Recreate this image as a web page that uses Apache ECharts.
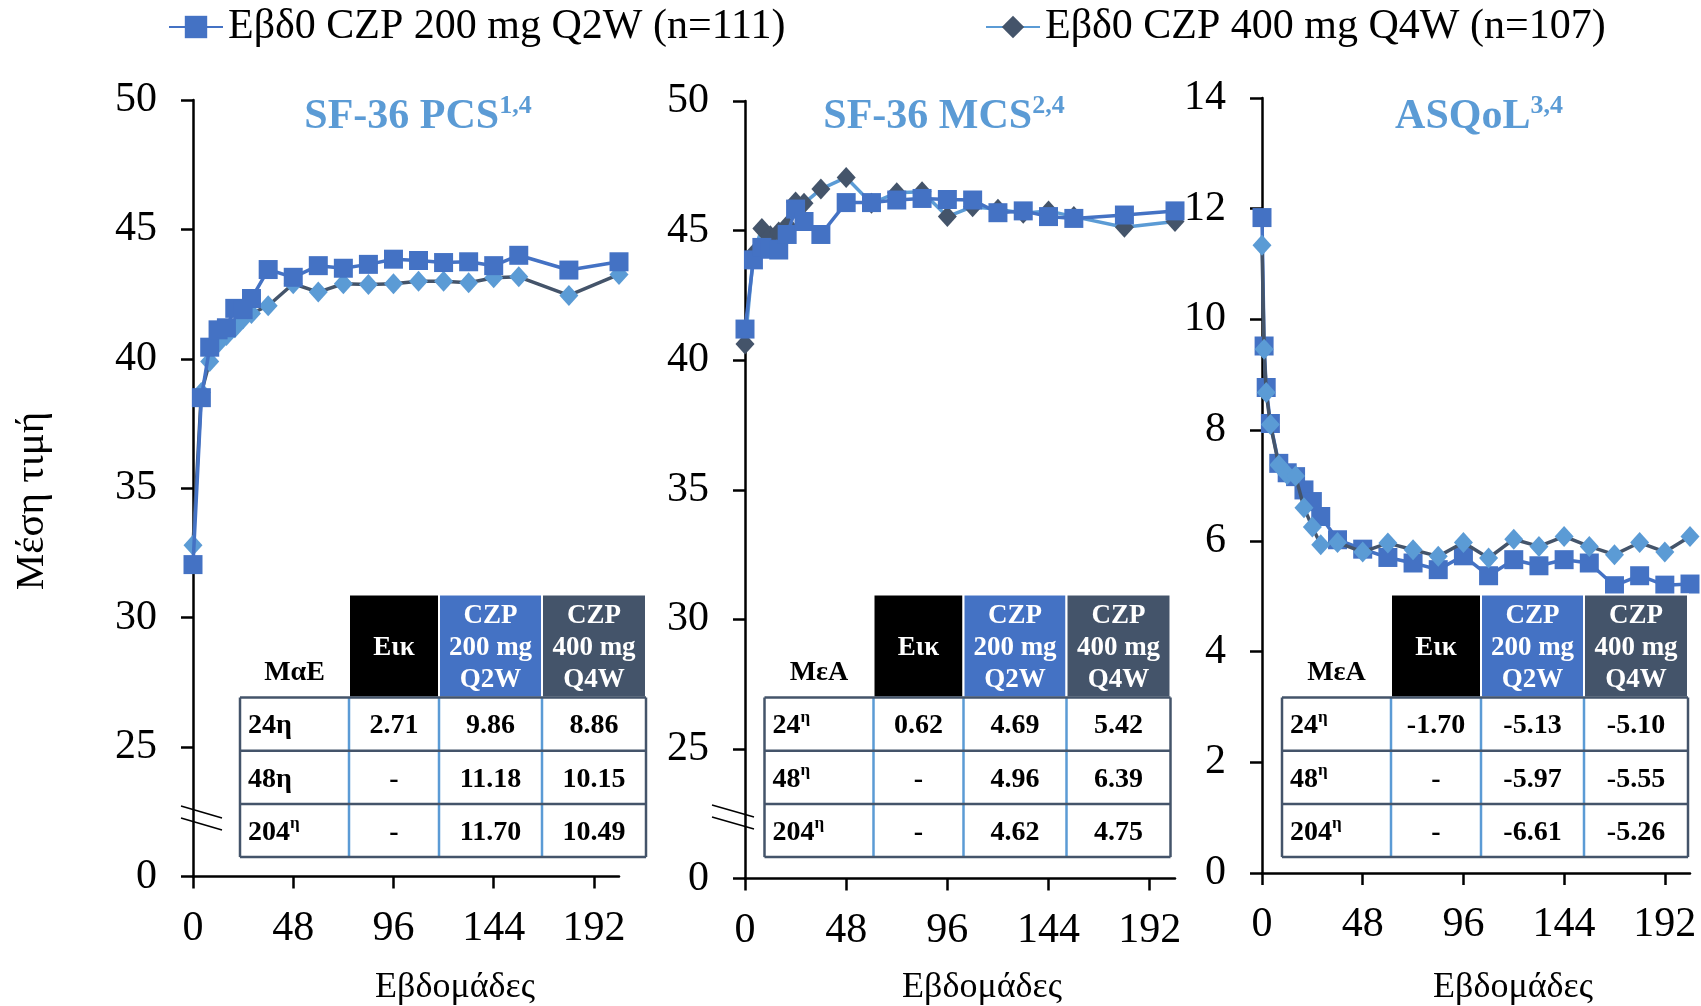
<!DOCTYPE html>
<html>
<head>
<meta charset="utf-8">
<script src="https://cdn.jsdelivr.net/npm/echarts@6/dist/echarts.min.js"></script>
<style>
html, body { margin: 0; padding: 0; background: #fff; }
#main { width: 1701px; height: 1006px; }
</style>
</head>
<body>
<div id="main"></div>
<script>
// visit weeks
var weeksSF = [0, 4, 8, 12, 16, 20, 24, 28, 36, 48, 60, 72, 84, 96, 108, 120, 132, 144, 156, 180, 204];
var weeksAsq = [0, 1, 2, 4, 8, 12, 16, 20, 24, 28, 36, 48, 60, 72, 84, 96, 108, 120, 132, 144, 156, 168, 180, 192, 204];

// SF-36 PCS
var pcs200 = [32.05, 38.5, 40.45, 41.12, 41.2, 41.95, 41.9, 42.33, 43.45, 43.15, 43.6, 43.5, 43.65, 43.85, 43.8, 43.72, 43.75, 43.6, 44.0, 43.43, 43.75];
var pcs400 = [32.8, 38.7, 39.9, 40.6, 40.9, 41.2, 41.55, 41.75, 42.05, 42.9, 42.58, 42.9, 42.87, 42.9, 43.0, 43.0, 42.94, 43.13, 43.17, 42.45, 43.26];
// SF-36 MCS
var mcs200 = [41.2, 43.87, 44.35, 44.28, 44.25, 44.85, 45.83, 45.35, 44.85, 46.08, 46.08, 46.18, 46.24, 46.2, 46.18, 45.69, 45.76, 45.54, 45.47, 45.6, 45.76];
var mcs400 = [40.62, 44.1, 45.08, 44.8, 44.95, 45.2, 46.1, 46.05, 46.6, 47.05, 46.05, 46.46, 46.5, 45.54, 45.92, 45.82, 45.67, 45.76, 45.54, 45.13, 45.35];
// ASQoL
var asq200 = [11.84, 9.52, 8.77, 8.12, 7.40, 7.23, 7.16, 6.92, 6.71, 6.44, 6.02, 5.85, 5.70, 5.60, 5.48, 5.73, 5.37, 5.66, 5.55, 5.66, 5.60, 5.19, 5.37, 5.20, 5.22];
var asq400 = [11.34, 9.46, 8.68, 8.10, 7.37, 7.20, 7.17, 6.60, 6.25, 5.93, 5.97, 5.80, 5.96, 5.84, 5.72, 5.97, 5.69, 6.03, 5.90, 6.08, 5.90, 5.75, 5.97, 5.80, 6.08];

var xTicks = [0, 48, 96, 144, 192];

var name200 = 'Εβδ0 CZP 200 mg Q2W (n=111)';
var name400 = 'Εβδ0 CZP 400 mg Q4W (n=107)';

// tables
var tblHead = ['Εικ', 'CZP\n200 mg\nQ2W', 'CZP\n400 mg\nQ4W'];
var pcsRows = ['{n|24η}', '{n|48η}', '{n|204}{s|η}'];
var supRows = ['{n|24}{s|η}', '{n|48}{s|η}', '{n|204}{s|η}'];
var pcsTable = [['2.71', '9.86', '8.86'], ['-', '11.18', '10.15'], ['-', '11.70', '10.49']];
var mcsTable = [['0.62', '4.69', '5.42'], ['-', '4.96', '6.39'], ['-', '4.62', '4.75']];
var asqTable = [['-1.70', '-5.13', '-5.10'], ['-', '-5.97', '-5.55'], ['-', '-6.61', '-5.26']];

var SERIF = '"Liberation Serif", "Times New Roman", serif';
var BLUE = '#4472C4', LIGHT = '#5B9BD5', SLATE = '#44546A';

var chart = echarts.init(document.getElementById('main'));

function pairs(w, v) {
    return w.map(function (x, i) { return [x, v[i]]; });
}

function lineSeries(name, idx, weeks, vals, symbol, lineColor, markColor, z) {
    return {
        name: name, type: 'line', xAxisIndex: idx, yAxisIndex: idx,
        data: pairs(weeks, vals),
        symbol: symbol,
        symbolSize: symbol === 'rect' ? 19 : [19, 21],
        lineStyle: { color: lineColor, width: 3.5 },
        itemStyle: { color: markColor, borderWidth: 0 },
        emphasis: { disabled: true },
        clip: false,
        z: z
    };
}

function xAx(idx) {
    return {
        type: 'value', gridIndex: idx, min: 0, max: 204, interval: 48,
        axisLine: { onZero: false, lineStyle: { color: '#000', width: 2.5 } },
        axisTick: { show: true, length: 12, customValues: xTicks, lineStyle: { color: '#000', width: 2.5 } },
        axisLabel: { customValues: xTicks, margin: 31, color: '#000', fontSize: 42, fontFamily: SERIF },
        splitLine: { show: false }
    };
}

function yAx(idx, min, max, step, fmt) {
    return {
        type: 'value', gridIndex: idx, min: min, max: max, interval: step,
        axisLine: { show: true, onZero: false, lineStyle: { color: '#000', width: 2.5 } },
        axisTick: { show: true, length: 12, lineStyle: { color: '#000', width: 2.5 } },
        axisLabel: { margin: 36, color: '#000', fontSize: 42, fontFamily: SERIF, formatter: fmt },
        splitLine: { show: false }
    };
}

// broken axis: the bottom tick (20) stands for 0
var brokenFmt = function (v) { return v === 20 ? '0' : String(v); };

// ---- table graphics ----
var colW = [109, 90, 103, 104];
var headTop = 594.5, headH = 103, rowH = 53.2;
var headFill = ['#000000', BLUE, SLATE];

function txt(x, y, text, opt) {
    var st = {
        text: text, fill: opt.fill || '#000',
        fontSize: opt.size, fontWeight: opt.weight || 'normal', fontFamily: SERIF,
        align: opt.align || 'center', textAlign: opt.align || 'center',
        verticalAlign: 'middle', textVerticalAlign: 'middle'
    };
    if (opt.lineHeight) { st.lineHeight = opt.lineHeight; }
    if (opt.rich) { st.rich = opt.rich; }
    return { type: 'text', x: x, y: y, z: 100, style: st };
}

function lineEl(x1, y1, x2, y2, color, w) {
    return { type: 'line', z: 101, shape: { x1: x1, y1: y1, x2: x2, y2: y2 }, style: { stroke: color, lineWidth: w } };
}

var rowRich = {
    n: { fontSize: 28, fontWeight: 'bold', fontFamily: SERIF, lineHeight: 34 },
    s: { fontSize: 17, fontWeight: 'bold', fontFamily: SERIF, lineHeight: 18, verticalAlign: 'top' }
};

function tableGraphics(left, corner, rowLabels, cells) {
    var els = [];
    var xs = [left];
    colW.forEach(function (w) { xs.push(xs[xs.length - 1] + w); });
    var bodyTop = headTop + headH, bottom = bodyTop + 3 * rowH;
    els.push({ type: 'rect', z: 99, shape: { x: xs[0], y: bodyTop, width: xs[4] - xs[0], height: 3 * rowH }, style: { fill: '#fff' } });
    for (var c = 0; c < 3; c++) {
        els.push({ type: 'rect', z: 99, shape: { x: xs[c + 1], y: headTop, width: colW[c + 1], height: headH },
            style: { fill: headFill[c], stroke: '#fff', lineWidth: 2 } });
        els.push(txt((xs[c + 1] + xs[c + 2]) / 2, headTop + headH / 2 + 2, tblHead[c],
            { size: 27, weight: 'bold', fill: '#fff', lineHeight: 32 }));
    }
    els.push(txt((xs[0] + xs[1]) / 2, 673, corner, { size: 28, weight: 'bold' }));
    for (var r = 0; r < 3; r++) {
        var cy = bodyTop + rowH * (r + 0.5) + 2;
        els.push(txt(xs[0] + 8, cy, rowLabels[r], { size: 28, weight: 'bold', align: 'left', rich: rowRich }));
        for (var k = 0; k < 3; k++) {
            els.push(txt((xs[k + 1] + xs[k + 2]) / 2, cy, cells[r][k], { size: 28, weight: 'bold' }));
        }
    }
    for (var v = 1; v <= 3; v++) {
        els.push(lineEl(xs[v], bodyTop, xs[v], bottom, LIGHT, 2.5));
    }
    for (var h = 0; h <= 3; h++) {
        els.push(lineEl(xs[0], bodyTop + h * rowH, xs[4], bodyTop + h * rowH, SLATE, 2.5));
    }
    els.push(lineEl(xs[0], bodyTop, xs[0], bottom, SLATE, 2.5));
    els.push(lineEl(xs[4], bodyTop, xs[4], bottom, SLATE, 2.5));
    return els;
}

var titleRich = {
    a: { fontSize: 42, fontWeight: 'bold', fontFamily: SERIF, fill: LIGHT, color: LIGHT, lineHeight: 48 },
    s: { fontSize: 26, fontWeight: 'bold', fontFamily: SERIF, fill: LIGHT, color: LIGHT, lineHeight: 26, verticalAlign: 'top' }
};

var graphics = [
    txt(418, 117, '{a|SF-36 PCS}{s|1,4}', { size: 42, weight: 'bold', fill: LIGHT, rich: titleRich }),
    txt(944, 117, '{a|SF-36 MCS}{s|2,4}', { size: 42, weight: 'bold', fill: LIGHT, rich: titleRich }),
    txt(1479, 117, '{a|ASQoL}{s|3,4}', { size: 42, weight: 'bold', fill: LIGHT, rich: titleRich }),
    txt(455, 988, 'Εβδομάδες', { size: 36 }),
    txt(982, 988, 'Εβδομάδες', { size: 36 }),
    txt(1513, 988, 'Εβδομάδες', { size: 36 }),
    // axis break marks
    lineEl(181, 806, 222, 818, '#000', 1.5),
    lineEl(181, 818, 222, 830, '#000', 1.5),
    lineEl(712, 805, 754, 817, '#000', 1.5),
    lineEl(712, 817, 754, 829, '#000', 1.5)
];
var yName = txt(32, 501, 'Μέση τιμή', { size: 41 });
yName.rotation = Math.PI / 2;
graphics.push(yName);
graphics = graphics
    .concat(tableGraphics(240, 'ΜαΕ', pcsRows, pcsTable))
    .concat(tableGraphics(764.5, 'ΜεΑ', supRows, mcsTable))
    .concat(tableGraphics(1282, 'ΜεΑ', supRows, asqTable));

var legendBase = {
    orient: 'horizontal', top: 6, padding: 0, itemGap: 0,
    itemWidth: 54, itemHeight: 28,
    textStyle: { fontSize: 42, fontFamily: SERIF, color: '#000' },
    selectedMode: false
};

chart.setOption({
    animation: false,
    backgroundColor: '#fff',
    legend: [
        Object.assign({}, legendBase, { left: 168, data: [name200] }),
        Object.assign({}, legendBase, { left: 985, data: [name400] })
    ],
    grid: [
        { left: 193, top: 100, width: 426, height: 776.5, outerBoundsMode: 'none' },
        { left: 745, top: 101, width: 430, height: 777.5, outerBoundsMode: 'none' },
        { left: 1262, top: 98, width: 428, height: 775, outerBoundsMode: 'none' }
    ],
    xAxis: [xAx(0), xAx(1), xAx(2)],
    yAxis: [
        yAx(0, 20, 50, 5, brokenFmt),
        yAx(1, 20, 50, 5, brokenFmt),
        yAx(2, 0, 14, 2, null)
    ],
    series: [
        // MCS first so the legend takes its styling
        lineSeries(name200, 1, weeksSF, mcs200, 'rect', BLUE, BLUE, 4),
        lineSeries(name400, 1, weeksSF, mcs400, 'diamond', LIGHT, SLATE, 3),
        lineSeries(name200, 0, weeksSF, pcs200, 'rect', BLUE, BLUE, 4),
        lineSeries(name400, 0, weeksSF, pcs400, 'diamond', SLATE, LIGHT, 3),
        lineSeries(name200, 2, weeksAsq, asq200, 'rect', BLUE, BLUE, 3),
        lineSeries(name400, 2, weeksAsq, asq400, 'diamond', SLATE, LIGHT, 4)
    ],
    graphic: { elements: graphics }
});
window.onresize = chart.resize;
</script>
</body>
</html>
